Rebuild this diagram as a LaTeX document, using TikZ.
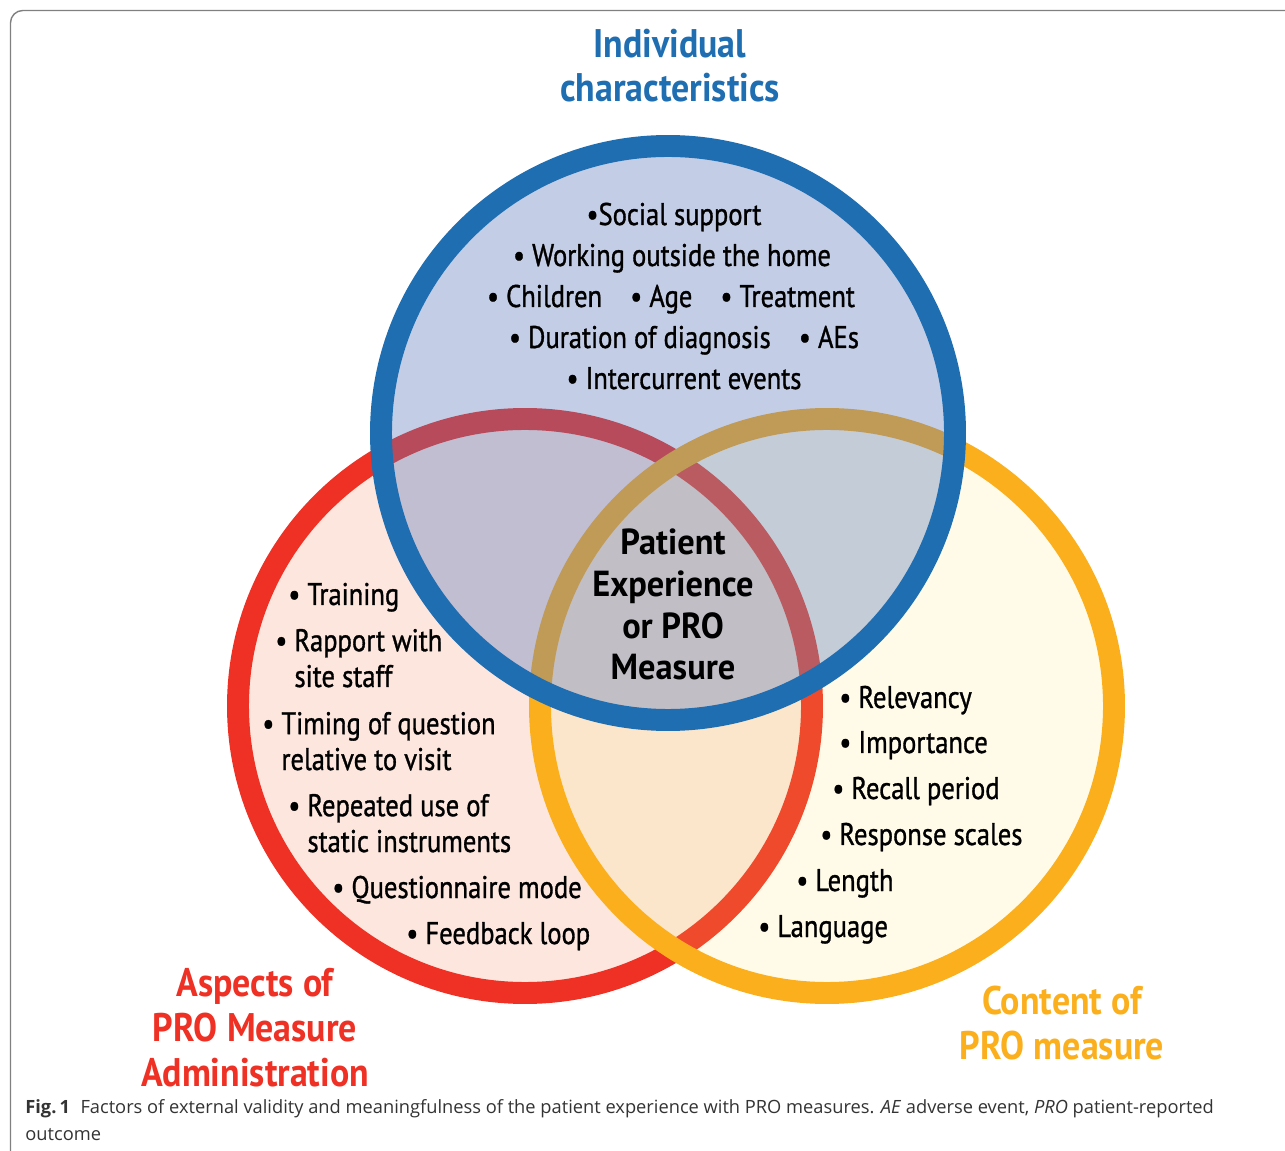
\documentclass[tikz,border=0pt]{standalone}
\usepackage{fontspec}
\setmainfont{Open Sans}
\newfontfamily\condfont[FakeStretch=0.85,FakeBold=1.0]{PT Sans}
\newfontfamily\headfont[FakeStretch=0.9]{PT Sans}
\newfontfamily\corefont[FakeStretch=0.95]{PT Sans}
\definecolor{bluering}{HTML}{1F6EB2}
\definecolor{redring}{HTML}{EE3124}
\definecolor{orangering}{HTML}{FBAF1D}
\definecolor{redfill}{HTML}{FCE6DE}
\definecolor{blueshade}{HTML}{5D7ABB}
\definecolor{orangeshade}{HTML}{FFE65D}
\definecolor{captext}{HTML}{333333}
\tikzset{
  ring/.style={line width=12.5pt},
  head/.style={inner sep=0pt, align=center, anchor=base,
    font=\headfont\bfseries\fontsize{22.7}{25.5}\selectfont},
  core/.style={inner sep=0pt, align=center, anchor=base,
    font=\corefont\bfseries\fontsize{20.6}{23.8}\selectfont},
  item/.style={inner sep=0pt, align=left, anchor=base west,
    font=\condfont\fontsize{17.8}{20.4}\selectfont},
  itemc/.style={item, anchor=base},
  captionbox/.style={inner sep=0pt, anchor=base west, text=captext,
    font=\fontsize{10.4}{15.3}\selectfont},
}
\newcommand{\bul}{\textbullet\ }
\newcommand{\ind}{\hphantom{\textbullet\ }}

\begin{document}
\begin{tikzpicture}[x=0.02cm,y=-0.02cm]
		\useasboundingbox (0,0) rectangle (1285,1151);
		% frame
		\draw [color=gray,line width=0.8pt,rounded corners=7pt] (1285,10.5) -- (10.5,10.5) -- (10.5,1151);
		% circles
		\coordinate (admin) at (525,706);
		\coordinate (content) at (827,706);
		\coordinate (indiv) at (668,433);
		\draw [ring,draw=redring,fill=redfill] (admin) circle (287);
		\draw [ring,draw=orangering,fill=orangeshade,fill opacity=0.14] (content) circle (287);
		\draw [ring,draw=bluering,fill=blueshade,fill opacity=0.37] (indiv) circle (287);
		% titles (base = last line)
		\node [head,text=bluering] (indivtitle) at (670,102) {Individual\\characteristics};
		\node [head,text=redring] (admintitle) at (255,1086) {Aspects of\\PRO Measure\\Administration};
		\node [head,text=orangering] (contenttitle) at (1062,1059) {Content of\\PRO measure};
		\node [core] (pro) at (673,680) {Patient\\Experience\\or PRO\\Measure};
		% individual characteristics
		\node [itemc] (social) at (674,225) {\textbullet Social support};
		\node [itemc] (working) at (672,266) {\bul Working outside the home};
		\node [itemc] (children) at (671,307) {\bul Children\hspace{16pt}\bul Age\hspace{16pt}\bul Treatment};
		\node [itemc] (duration) at (684,348) {\bul Duration of diagnosis\hspace{16pt}\bul AEs};
		\node [itemc] (intercur) at (684,389) {\bul Intercurrent events};
		% administration
		\node [item] (training) at (288,605) {\bul Training};
		\node [item] (rapport) at (275,687) {\bul Rapport with\\\ind site staff};
		\node [item] (timing) at (262,770) {\bul Timing of question\\\ind relative to visit};
		\node [item] (repeated) at (288,852) {\bul Repeated use of\\\ind static instruments};
		\node [item] (mode) at (332,898) {\bul Questionnaire mode};
		\node [item] (feedback) at (406,944) {\bul Feedback loop};
		% content
		\node [item] (relevancy) at (839,708) {\bul Relevancy};
		\node [item] (importance) at (839,753) {\bul Importance};
		\node [item] (recall) at (832,799) {\bul Recall period};
		\node [item] (response) at (820,845) {\bul Response scales};
		\node [item] (length) at (796,891) {\bul Length};
		\node [item] (language) at (758,937) {\bul Language};
		% caption
		\node [captionbox] (caption) at (25,1113)
			{\textbf{Fig.\,1}\hspace{6pt}Factors of external validity and meaningfulness of the patient experience with PRO measures. \textit{AE} adverse event, \textit{PRO} patient-reported};
		\node [captionbox] (caption2) at (25,1140) {outcome};
	\end{tikzpicture}
\end{document}
